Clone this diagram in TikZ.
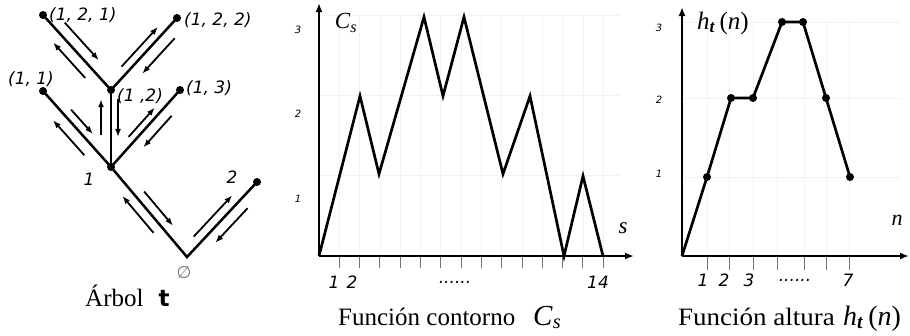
\documentclass[tikz,border=0pt]{standalone}
\usepackage{fontspec}
\setmainfont{Liberation Serif}
\newfontfamily\labfont{DejaVu Sans}
\usetikzlibrary{arrows.meta,calc}
\newcommand\earr[6]{\draw[tarr] ($(#1.center)!#3!(#2.center)!#5!#6:(#2.center)$) -- ($(#1.center)!#4!(#2.center)!#5!#6:(#2.center)$);}
\begin{document}
\begin{tikzpicture}[x=1pt,y=-1pt,
  edge/.style={line width=2.5pt,line join=miter},
  tarr/.style={line width=1.8pt,-{Latex[length=8pt,width=6pt]}},
  dot/.style={circle,fill,inner sep=0pt,minimum size=8pt},
  lbl/.style={font=\labfont\itshape\fontsize{17}{17}\selectfont,inner sep=0pt},
  ylbl/.style={font=\labfont\itshape\fontsize{10}{10}\selectfont,inner sep=0pt},
  axis/.style={line width=2pt,-{Latex[length=9pt,width=7pt]}},
  tickm/.style={line width=1pt,black!55},
  curve/.style={line width=2.7pt,line join=miter},
  gridl/.style={black!5,line width=0.8pt},
  captext/.style={font=\fontsize{25}{25}\selectfont,inner sep=0pt},
  hdot/.style={circle,fill,inner sep=0pt,minimum size=8pt}
]
\useasboundingbox (0,0) rectangle (910,335);

% ---------------- Tree ----------------
\coordinate (R) at (187,257);
\node[dot] (N1) at (111,167) {};
\node[dot] (N2) at (257,182) {};
\node[dot] (N11) at (43,91) {};
\node[dot] (N12) at (111,90) {};
\node[dot] (N13) at (180,90) {};
\node[dot] (N121) at (43,15) {};
\node[dot] (N122) at (177,18) {};

\draw[edge] (N11.center) -- (N1.center) -- (R) -- (N2.center);
\draw[edge] (N1.center) -- (N12.center);
\draw[edge] (N1.center) -- (N13.center);
\draw[edge] (N121.center) -- (N12.center) -- (N122.center);

\earr{R}{N1}{.66}{.28}{9.5pt}{270}
\earr{R}{N1}{.34}{.75}{10pt}{90}
\earr{R}{N2}{.19}{.74}{9pt}{90}
\earr{R}{N2}{.75}{.29}{11pt}{270}
\earr{N1}{N11}{.68}{.36}{8.5pt}{270}
\earr{N1}{N11}{.26}{.72}{12pt}{90}
\earr{N1}{N12}{.42}{.88}{10pt}{90}
\earr{N1}{N12}{.88}{.39}{7pt}{270}
\earr{N1}{N13}{.33}{.71}{7pt}{90}
\earr{N1}{N13}{.76}{.35}{11pt}{270}
\earr{N12}{N121}{.80}{.30}{11pt}{270}
\earr{N12}{N121}{.26}{.73}{11pt}{90}
\earr{N12}{N122}{.25}{.80}{8pt}{90}
\earr{N12}{N122}{.83}{.34}{12pt}{270}

\node[lbl,anchor=west] (l121) at (49,15) {(1, 2, 1)};
\node[lbl,anchor=west] (l122) at (184,20) {(1, 2, 2)};
\node[lbl,anchor=west] (l11) at (8,79) {(1, 1)};
\node[lbl,anchor=west] (l12) at (117,96) {(1 ,2)};
\node[lbl,anchor=west] (l13) at (186,88) {(1, 3)};
\node[lbl] (l1) at (89,179) {1};
\node[lbl] (l2) at (232,177) {2};
\node[inner sep=0pt,text=black!55,font=\labfont\itshape\fontsize{17}{17}\selectfont] (l0) at (184,273) {∅};
\node[captext,anchor=base west] (capA) at (85,306) {Árbol};
\node[anchor=base,inner sep=0pt,font=\labfont\bfseries\fontsize{23}{23}\selectfont] (capT) at (164,306) {t};

% ---------------- Contour function ----------------
\coordinate (O2) at (319,256);
\coordinate (Y2) at (319,3);
\coordinate (X2) at (634,256);
\foreach \k in {1,...,14} {\draw[gridl] (319+20.3*\k,15) -- (319+20.3*\k,256);}
\foreach \yy in {15,95,175} {\draw[gridl] (319,\yy) -- (620,\yy);}
\foreach \k in {1,...,14} {\draw[tickm] (319+20.3*\k,256) -- (319+20.3*\k,268);}
\draw[axis] (O2) -- (Y2);
\draw[axis] (O2) -- (X2);
\draw[curve] (O2) -- (360,96) -- (379,174) -- (424,17) -- (443,96) -- (464,17) -- (503,174) -- (530,96) -- (564,256) -- (583,176) -- (603,256);

\node[inner sep=0pt,font=\fontsize{23}{23}\selectfont] (cs) at (346,23) {\textit{C}\textsubscript{\textit{s}}};
\node[ylbl] (c3) at (298,30) {3};
\node[ylbl] (c2) at (298,114) {2};
\node[ylbl] (c1) at (298,199) {1};
\node[inner sep=0pt,font=\itshape\fontsize{23}{23}\selectfont] (sl) at (623,228) {s};
\node[lbl] (x1) at (334,282) {1};
\node[lbl] (x2) at (352,282) {2};
\node[lbl] (xd) at (455,282) {......};
\node[lbl] (x14) at (598,282) {14};
\node[captext,anchor=base west] (capC) at (338,325) {Función contorno};
\node[anchor=base west,inner sep=0pt,font=\fontsize{29}{29}\selectfont] (capCs) at (533,325) {\textit{C}\textsubscript{\textit{s}}};

% ---------------- Height function ----------------
\coordinate (O3) at (682,256);
\coordinate (Y3) at (682,7);
\coordinate (X3) at (909,256);
\foreach \xx in {707,729,753,777,804,826,849} {\draw[gridl] (\xx,22) -- (\xx,256);}
\foreach \yy in {22,98,177} {\draw[gridl] (682,\yy) -- (900,\yy);}
\foreach \xx in {707,729,753,777,804,826,849} {\draw[tickm] (\xx,256) -- (\xx,270);}
\draw[axis] (O3) -- (Y3);
\draw[axis] (O3) -- (X3);
\node[hdot] (h1) at (707,177) {};
\node[hdot] (h2) at (731,98) {};
\node[hdot] (h3) at (753,98) {};
\node[hdot] (h4) at (782,22) {};
\node[hdot] (h5) at (803,22) {};
\node[hdot] (h6) at (826,98) {};
\node[hdot] (h7) at (850,177) {};
\draw[curve,line join=round] (O3) -- (h1.center) -- (h2.center) -- (h3.center) -- (h4.center) -- (h5.center) -- (h6.center) -- (h7.center);

\node[inner sep=0pt,font=\fontsize{25}{25}\selectfont] (ht) at (723,23) {\textit{h}\textsubscript{\textbf{\textit{t}}}\,(\textit{n})};
\node[ylbl] (r3) at (659,28) {3};
\node[ylbl] (r2) at (659,100) {2};
\node[ylbl] (r1) at (659,174) {1};
\node[inner sep=0pt,font=\itshape\fontsize{22}{22}\selectfont] (nl) at (897,220) {n};
\node[lbl] (n1) at (703,280) {1};
\node[lbl] (n2) at (724,280) {2};
\node[lbl] (n3) at (749,280) {3};
\node[lbl] (nd) at (795,280) {......};
\node[lbl] (n7) at (848,280) {7};
\node[captext,anchor=base west] (capH) at (678,325) {\scalebox{1.08}[1]{Función altura}};
\node[anchor=base west,inner sep=0pt,font=\fontsize{28}{28}\selectfont] (capHt) at (843,325) {\textit{h}\textsubscript{\textbf{\textit{t}}}\,(\textit{n})};
\end{tikzpicture}
\end{document}
